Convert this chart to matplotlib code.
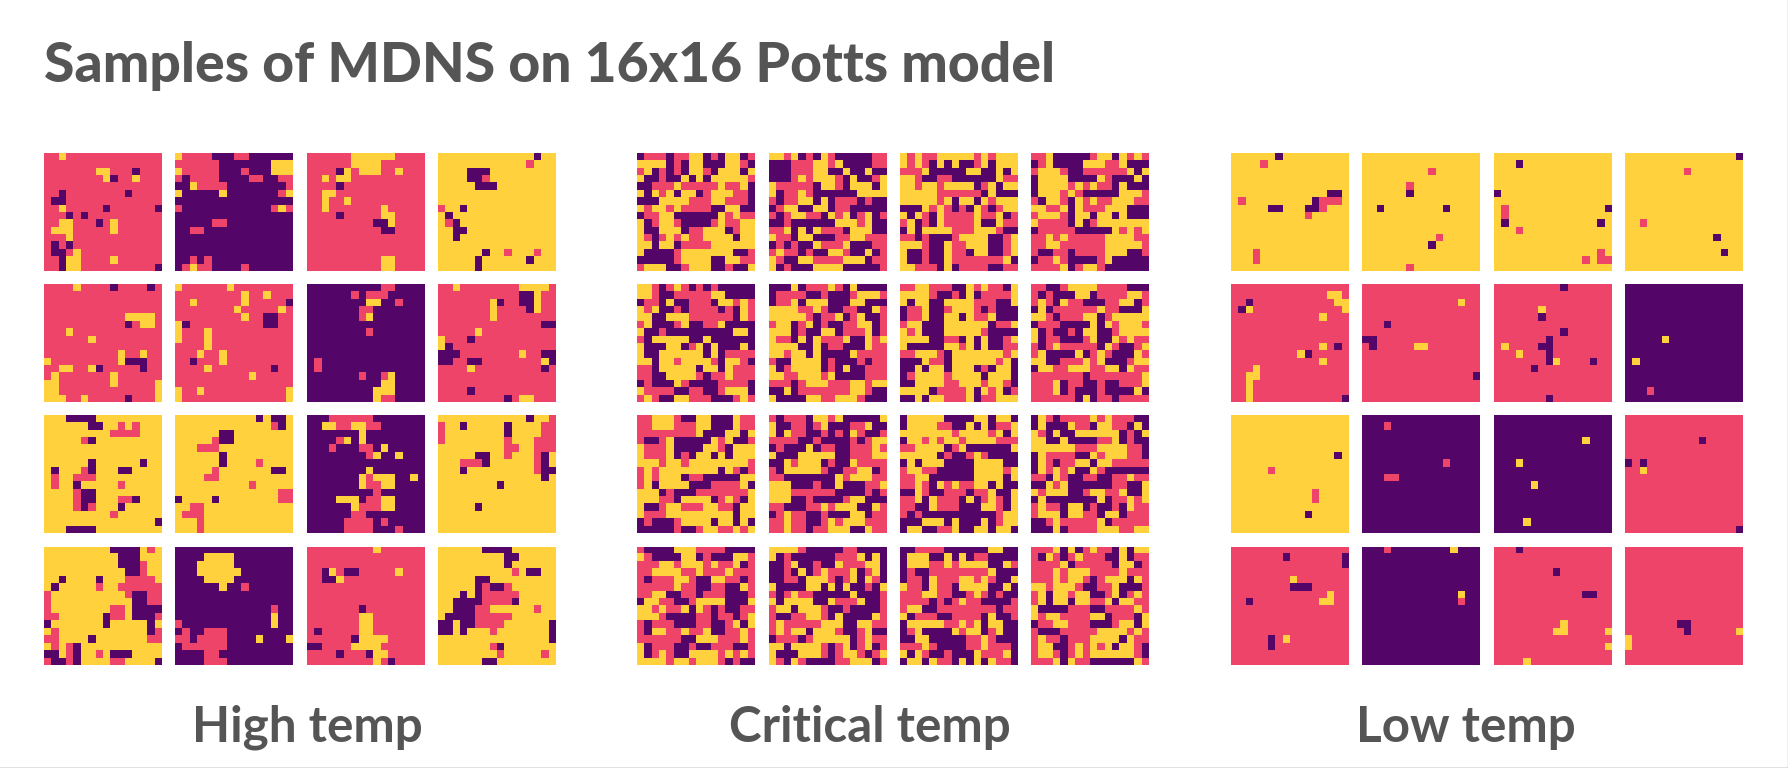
import numpy as np
import matplotlib
matplotlib.use("Agg")
import matplotlib.pyplot as plt
from matplotlib.colors import ListedColormap
from matplotlib.lines import Line2D

# spin states: p purple, r pink, y yellow. rows split by /
high_temp = [
    "rryr rrrr rrrr rrrr/rrrr rrrr rrrr rrrr/rrrr rrry yrrr prrr/rrrr rrrr yprr yrrr/rrrr rrrr rrrr rrrr/rrpr rrrr rrrp rrrr/rppr rrrr rrrr rrrr/rryr rrrr prrr rrrp/rrrp rprr rrrr rrrr/rryy rrrp ryrr rrrr/ryyy rrrr ryrr rrrr/rrry rrrr rrrr rrrr/rprp rrrr rrrr rrrr/rppr yrrr rrrr rrrr/rrpy yrrr ryrr rrrr/rrpy yrrr rrrr rrrp",
    "yrrr rppp rrpp pppp/rrrr rrpp pppp pyyy/yrrr rrpp prpp pyyy/rprr rrpp pprr pprr/ppyr rrrp pppp pppr/yppp ppyp pppp ppry/pppp pppp pppp pppp/rppp pppp pppp pryr/pppp pppp pppp pppp/pppp prrp pppp pppp/pprr pppp pppp pppp/pppp pppp pppp pppp/pppp pppp pppp pppp/pppp pppp pppp pppp/pprp rppp pppp pppp/pryr rppp prpp pppp",
    "rrrr rryy yyyy rrrr/rrrr rryy yyrr rrrr/rrrr pyry yyrr yrrr/rryr yyrr rrrr rrrr/rrrr prrr rrrr rrrr/rryy rrrr rrrr rrrr/rryr ryrr rrrr rrrr/rryr rrrr rryr rrrr/rrrr prrr rryy rrrr/rrrr rrrr rppy rrrr/rrrr rrrr rrpp rrrr/rrrr rrrr rrrr rrrr/rrrr rrrr rrrr rrrr/rrrr rrrr rrrr rrrr/rrrr rrrr rryy rrrr/rrrr rrrr rryy rrrr",
    "yyyy yyyy yyyy ypyy/yyyy yyyy yyyy ryyy/yyyy pppy yyyy yyyy/yyyy ppry yyyy yyyy/yyyy yppp yyyy yyyy/yyyy yyyy yyyy yyyy/yyyy yyyy yyyy yyyy/ryyp yyyy yyyy yyyy/ypyy yyyy yyyy yyyy/yrpy yyyy yyyy yyyy/yypp yyyy yyyy yyyy/yypy yyyy yyyy yyyy/yyyy yyyy yyyy yyyy/yyyy yypy yryy yryy/yyyy ypyy yyyy pyyy/yyyy ypyy yyyy yyyy",
    "rrrr yrrr rprr rrpr/rrrr rrrr rrrr rrrr/rrrr rrrr rrrr rrrr/rrrr rrrr rrrr rrrr/rrrr rrrr rrry yyyr/rrrr rrrr rrrp ryyr/rrry rrrr rrrr rrrr/rrrr rryr rrrr rrrr/rrrr rrrr rrrr rrrr/rrrr rrrr rryr ryrr/yrrr rrrr rryp pprr/rryy rryp rrrr rprr/ryrr rrrr ryrr rrrr/yyrr rrrr ryrr rrry/yyrr rrrr rrrr rrry/yyyr ryrr rrrp rrry",
    "yrrr rrry rrrr rrrr/rrrr rrrr ryrr yrrr/rryr rrrr ryrr rrrp/rrrr rrrr yrrr rryr/rrrr rrrr ryrr pprr/yprr rrrr rrrr pprr/yrrr yrrr rrrr rrrr/yrrr yrrr rrrr rrrr/rrrr yrrr rrrr rrrr/rrry rryr rrrr rrrr/rrpr rryr rrrr rrrr/rrrr yrrr rrrr rprr/rrrr rrrr rryr rrrr/rrrr rrrr rrrr rrrr/yrry rrrr rrrr rrry/yrrr rrrr rrrr rrry",
    "pppp pppp pprr pppp/pppp pprp rrrp pppp/pppp pppp yypp rppp/pppp pppr rppp pppp/pppp pppr yppp pppp/pppp pppp pppp pppp/pppp pppp rppp pppp/pppp pppp pppp pppp/pppp pppp pppp pppp/pppp pppp pppp pppp/prpp pppp pppp pppp/prpp pppp pppp pppp/pppp pppr ppry pppp/pppp pppp ppyy pppp/pppp pppp pyyy pppp/pppp pppp pyrr pppp",
    "rryr rrrr rrry yyyr/rrrr rrrr rrrp pyrr/rrrr rrry prrp pyrr/rrrr rrry rrrr pyrr/rrrr rrry rrrr rrrr/rrrr rrrr rrrr rrpp/rrrr ryrr rrrr rrrr/yrrr prrr rrrr rrrr/yprr rrrr rrrr rrrr/pppr rrrr rrry rrpp/pprr pprr rrrr rryp/rrrr yrrr rrrr rrpr/rrrr rrrr rrrr rrrr/rrrr rrrr rrrr rrrr/rrrr prrr rrrr rrrr/rrrr rrrr rpry yrrr",
    "yyyp pppy yyyy yyyy/yyyy yypp yyry ryyy/yyyy yyyy yrrr ryyy/yyyy yrpy yyyy yyyy/yyyy yyyy yyyy yyyy/yyyy yyyy yyyy yyyy/yyyy yypy yyyy ypyy/ypyy yrpy yypp yyyy/yryy rrry yyyy yyyy/yryy pyyy yyry yyyy/yyyy rppy yyyy yyyy/yyyy rppy yyrr pyyy/yyyy rpry yypy yyyy/yyyy yyyy yryy yyyy/yyyy yyyy yyyy yyyp/yyyp pppy yyyy yyyy",
    "yyyy yyyy yyyp yppy/yyyy yyyy yyyy yrpy/yyyy yypp yyyy yyyy/yyyy yrpp yyyy yyyy/yyyr rryy yyyy yyyy/yyyy yypy yyyy yyyy/yyyy yypy yyyr yyyy/yyyy yryy yyyy yppy/yyyy rryy yyyy yyyy/yyyy yyyy yyry yyyy/yyyy yyyy yyyy yyrr/pyyy ypyy yyyy yyrr/yyrr yyyy yyyy yyyy/yrrr yyyy yyyy yyyy/yyyr yyyy yyyy yyyy/yyyr yyyy yyyy yyyy",
    "pppr rrrr rppp pppp/ppyy rryy rrpp pppp/pppp pppy pppp pppp/pppp rypy pppp pppp/pppr pppr rpyp pppp/pppp pppp rypp yppp/pppp pppp pppp pppp/pppp pppp yppp pppp/pppp pppy ryyy ppyp/pppp pppy rryy pppp/pppp pppp prpp pppp/pppp yyyp rryy pppp/pppp ppyr rryy pppp/pppp pprr pppp pppp/pppp prrr rprp pppp/pppp prrr rppp rppp",
    "yyyy yyyy yyyy pyyr/ryyp yyyy ypyy yyrr/ryyy yyyy ypyy yyrr/ryyy yyyy yryy yrrr/yyyy yyyy yrry yrrr/yyyy yppy yryy yrpy/yyyr rrpy yyyy yrpy/yyyp yyyy yyyy yrpp/yyyy yyyy yyyy yypy/yyyy yyyy pyyy yyyy/yyyy yyyy yyyy yyyy/yyyy yyyy yyyy yyyy/yyyy ypyy yyyy yyyy/yyyy yyyy yyyy yyyy/yyyy yyyy yyyy yyyy/yyyy yyyy yyyy yyyy",
    "yyyy yyyy yppp pyry/yyyy yyyy yypp pyyy/yyyy yyyy yypp pryy/yyyy yyyy yyyp pryy/yypy yyyp yyyr rrry/ypyy yyyr yyrr rrrr/ryyy yyyy yyyr pprr/ryyy yyyy yyyy pprr/ryyy yyyy yrry pppp/rryy yyyy prry pppr/pyyy yyyy pyyy yypy/yryy yyyy yyyy yypr/rryy yypy yyyy yyrr/yryr pyyy yyyy yyyy/ppyr pyyr yppp yyyy/rppr pyyy yrry yyyp",
    "pppp pppp pppp pppp/pppp yyyy pppp pppp/pppy yyyy pppp pppp/pppy yyyy yppp pppp/pppp yyyy pppp pppp/pppp ppyp prpp pppp/pppp pppp pppp pppp/pppp pppp pppp pppp/pppp pppp pppp prpp/pppp pppp pppp pypp/rppp pppp pppp pypp/prpp rrrp pppp pppp/rrpr rrrp pppy pppy/prrr rrrp pppp pppp/pppp rrpp pppp pppp/pppp rrrp pppp pppp",
    "rrrr rrrr ryrr rrrr/rrrr rrrr rrrr rrrr/rrrr rrrr rrrr rrrr/rrpy rppr rrrr yrrr/rrpp yrrr rrrr rrrr/rrrr rrrr rrrr rrrr/rrrr rrrr rrrr rrrr/rrrr rrrr rrrr rrrr/rrrr rrrp rrrr rrrr/rrrr rrry yrrr rrrr/rrrr rrry yrrr rrrr/rprr rrry yrrr rrrr/rrrr rrpy yyyr rrrr/pprr rryy yyrr rrrr/rrrr prrr pyyr rrrr/rrrr rrrr ryrp rrrr",
    "yyyy yypp ppyy yyyy/yyyy yyyy yppy yyyy/yyyy yyyy ypyy yyyy/yyyy yyyy yyry ppyy/yyyy yppy yyyy yyyy/yyyy yprp pryy yyyy/yyyp yprr rrry yyyy/yypp pprr rrpy yyyy/yypp prry yyyy yryy/yppp prrr rryy yyyy/ppyp prrr ryyy yyyp/ppyp yyyr yyyy yyyp/yyyy yyyy yyyy yyyp/yyyy yyyr pyyy yyyy/yyyy yyyy ryyy yyry/yyyy yypp yyyy yyyy",
]

critical_temp = [
    "prrr prry yprp yypr/yyyy prpy yppp yyrp/rypr prpy yrpy yypy/yppr ppyp ypyy yyyr/pprr ryrr rrry rryp/ypyr ypyy pryy yrrp/pppy yyyr rryy rrrp/yryy ryrr rrpp yypp/prry yppp pppy ryrr/ypry yrpp ppry rryy/yppy yypr ryyy pryy/yrpr yryr ryyy ypyy/yypy yprr rryy yyyy/yppp pryy yyyy yppr/pppp pryy yypp yyrr/ryyy ppry yypp rppy",
    "yyry prpy rppp pprr/pppr rryy rypp pprr/pppr rryy ppyp pypp/pppr yryy yrpy ppry/yrrr rrpy yrpy yypy/yprr yrpp pppp yyyy/rprr yypy prrr prpp/pryy ppyy prrp pppp/rpry yrrp yryp rypr/pprp pppp pyyy rypp/rryp ypyr rrpy yypp/yrrp yypp prry yrrr/prpr ppyr rryp pprr/ryrr prpp yyrp pypr/yrpp yyrr rryy yprr/yprp ppyy yypp pppr",
    "yryr ryyy yyry ryyy/yryr pypy ppry pyyy/rrry pppp pyyp pypy/yyrp prrp pppp pyrr/yyry yryy yypr ypyy/yyyy yrrr rrrp yppp/yyyy yryp yypy ryyy/pppy ryrp rpyr pryy/ypyr pyrr rryr rypr/rypr pyrr rryp pyrr/pypy yyyr rryy yrpp/rrpr pppr yyyy ppry/yyyr ppyr ryyy ppry/yppr ppyr rpyy ppry/yppr ppyr rrrr rryp/yyrr rpyp rrrr pprr",
    "rryp pppp ryyp yryr/pryp pppy yyrr yppp/ryyy rppr rrrr rypy/pyyy yppp pyrp ppyp/pyyy yryr yrrp yppp/pyyy ryrp pppp yyyr/rpyy rpyr yrry yyrr/yyrr ypyr rryy yppp/ryyy rpyy pyyp yppp/yrrr rpyp ryyy yyyy/prrr rrpp pppy ryry/rryr yrrr rryy yyrr/rryy rrrr rryy yyyr/rppr rprr rryy yppr/prry rppp pryp pppp/rrrr ypry yrpp pppp",
    "yyrp ryrp rprp pppp/yyrp prrr rryy pppp/prrp yppr rrpy yryr/yryp prpr rrrp rpyr/yypp yyyr rrrr rpyr/rypp pryp prry pppp/yppr pppp pppp pyyp/rpyy yyyp pypp pppp/yppp yypr ypyp ppyp/yppy yyyy ypyp rrrr/yypy yryy yyrp yyrp/rrpy yyyy pyyp yrrr/rrpp yyyy rprr yrrr/prpp pyrp pppr rrrp/yrrr rppr rppr yyyp/ryrp pyyr rrpp pryr",
    "pppy prrr yrpy pppp/prrr rppr pppr yyyr/prry pyyy pppy yppp/yyyy rryr pprr ppyr/yyyy yrpr rypr yppr/ryyp rypr pprr yypr/yyyp rppy yprr rypr/yrrp ypyr rryp pyry/yyyy ppyp rrpp pyrr/yyry ypyp pppy rrrr/rppy yyyp rppp rprr/ypry yyyp rpyp prrr/yyrr yyyr yppp prrr/rrrp ryyy rrry yryy/ppyp rrrr rrry yrpp/yppp pyyr ryyy rppp",
    "rryy rrrp pyry rrpy/yyyy rppr pypr rrry/ypyy ppyy yyrr rppy/prry ppry yyrp rppp/prry ppyy pyrr yppp/ryyp ppyy yyyy prry/yryp ppyy yyyr pppp/yyyy pprr pypy ppry/yppp ppyy rypy pprr/rryy yrpy yyyy yyry/pppy rrpy yyyy yryp/ppyp yypy yypr pyyp/pryy yyry yyyp yyyp/ppyy yyrr yyyr yyrp/yyyy prrr rypy rypr/ppyp yyrr rypr ryyy",
    "rrpp ryyy yrrr rppp/rprp ppyy prrr ryyr/ryrp yrrp pprr yypr/pypr rrrr ryrr pppy/yyrp rrry ypry yyyy/prrr pppp ypyr yyyr/yprp prpy yppr yyyy/yprr pppr yppy ryrr/rpry rrrr rpyr ppry/rypp ppyp ryrp ppyr/yypp rrry rypp pryy/pyyr ryyy rryy pyrr/rrrr rrrp rrrr rrry/rrry prrp prpp rrry/rrry prpp prpp ppyp/rrrr rrpy prrp rrrr",
    "rryy yrpp yypp pyrr/rryy yrrr yypp pyrr/rrrr rrrr yppp yypy/rppr yppp ppyr yppr/yrrr yppp pyyr pyyy/yrrr yprp yypy pyyy/yyyr yyry yyyy yyyr/ryry yyyy yyyp yrpr/ryry yypr rppp ppyy/rypy yyyp pprr rryp/yyyp rppp rrrr rrry/yyyr rpyy yypr yrpy/yppr yyrr ryyr rpyy/yrrr yyyy yyyy ypyy/prpp pryy yypy ypyp/pppp prpp ryyr ryry",
    "rprr rpyy rypp pppy/yppr rpry pppr rypp/ypyr rppr prpy rppr/rrrr pprp pppr pryy/prpp pypr rppr rryr/yppp yyyy yppr rryy/ppyr yyyp rppy rrrr/rpyy yyyr pprr yypr/rrpp pppp pyry yyrr/yyyp pprp pypp prry/yyyr rrrr rppp prpr/yyyp prpp ppry yppp/rrpp prry ryyy ppyr/pryr rppr pppy yprr/rryr rppr yryy yrrr/rryr rprr yyyp pyrr",
    "pyyy yypp ppyy pyyp/pyyy yrrp pypy prry/yyyy yyyr yyyy rypy/pyyr yryy ryyy yrrr/rryy yypr yppp pppy/yyyy yprp pryr pppp/pypy yypp ppyy yypp/ryyr rppp ppyy yyry/rryy pppp ppyy yypy/rryr pyry rryy pypp/ppyr pprr rprr yppy/rryp yrrr pypr yrpy/rrpp yrrr pppy yrpy/rprp pppp pppp pryy/pppy yypy pppy pryy/pyyp prry ppyy pyyp",
    "pyrp rrrr yryr rrpp/pypp pyrr pyyr rpyp/yrpy ppyy yyyy prpy/yypp yppp prry prpp/yyyy yyrr ryyy yrrp/pyrr rrpp yryy yrrp/pyrp rryy pyyr rrrr/pyry rypp yrpp pppp/rrpy rppr rppr ryrr/ppyr yppp pppr rppy/yryy yppr yyrr yppy/pypp pppp pypr ryry/ryrr pyyp rppr pyrr/ryyy pyyr rpyy prrr/ppry rrrr rypr rrrr/pppy prrr ryyy rryy",
    "rppp pyyy rrrr pppp/yrpp ppyy prpp pyyr/rrry yryy yryr rypr/rryy yyrr yrrr yrrr/rprr ryyr ppyy rrpr/rrrr ryrr pprr ppyr/rryy pprr prrr pppr/pyyr rppr yyyy pppy/yyry rryp yrpr pprr/yyyr pppp rrpr rpry/rprr rppp rrpp rypy/rpyy rryr rypp rryr/rrrr rrpp yyyr rryr/yprr rppr pprr rppr/ypry rppy yyyr yryr/yyyy ryyr yyyr prpp",
    "yyyy rppp pprr pppp/yprp pppp prrr ypyp/ppry pprp pyrr ryyp/pprp ypry rrry pryp/pprr pyyy rpry pyrp/yppp pyyp ypyp prpy/rpry rrpp pppy pppr/ypyy yypp yrrr yppr/ryyp yyyr pprp pppr/rppr ryyr pypp ppyr/ryrr rrry yypp yyrr/ryry ypyy yrpp rypp/prrr pryy yyyp ryrr/yypy yyyr pryp rypr/yppp yyyr pryy rpry/yrpy rppp prry yypr",
    "pprr rrpp pppp yypp/pyyy ppyp yprr pppp/pyyy rryr yyyy ppyr/prpp rrrr rrrr yppp/prrp yrrr yyry rppy/yrrp yrrp yyyy ppyp/rrry yrrp pryr prpp/rrrr prpr yrrp pppr/ryyp prrr rrrr rprr/yprr rppr rrrp yppr/pyyy yyrr yryp yypp/pryp pppy ryyp rypp/ppyy pppp prry rppp/rrry rppp prry rrrp/ypyr pprp ppyr rryp/pyyp yrrp ypyp yrrp",
    "rrry pypr yrrp ypyy/rpyr pryr rrpp yprr/rrrr yprr rrrp yypr/rrry ryyy rrrr yrrr/rrry ryyr pryy ypyr/yyry yyrp prry pppr/rypy yryy ppry pryr/rypy ypyy rryp yyrr/yppp prrr pprr rryr/yryy rrrr yypr rrpy/prry yrrr pppr yypy/rppp rrrr ryyy yryr/ryrr prrr yyyy pyrr/ryyp pryr yryp yyrp/ryyr pryr yyyy yyrp/rrry pyrr pppp ppyr",
]

low_temp = [
    "yyyy yypy yyyy yyyy/yyyy ryyy yyyy yyyy/yyyy yyyy yyyy yyyy/yyyy yyyy yyyy yyyy/yyyy yyyy yyyy yyyy/yyyy yyyy yyyy yppy/yryy yyyy yyyp rrry/yyyy yppy yypp ryyy/yyyy yyyy yyry yyyy/yyyy yyyy yyyy yyyy/yyyy yyyy yyyy yyyy/yyyy yyyy yyyy yyyy/yyyy yyyy yyyy yyyy/yyyr yyyy yyyy yyyy/yyyr yyyy yyyy yyyy/yyyy yyyy yyyy yyyy",
    "yyyy yyyy yyyy yyyy/yyyy yyyy yyyy yyyy/yyyy yyyy yryy yyyy/yyyy yyyy yyyy yyyy/yyyy yyry yyyy yyyy/yyyy yypy yyyy yyyy/yyyy yyyy yyyy yyyy/yypy yyyy yyyp yyyy/yyyy yyyy yyyy yyyy/yyyy yyyy yyyy yyyy/yyyy yyyy yyyy yyyy/yyyy yyyy yyry yyyy/yyyy yyyy ypyy yyyy/yyyy yyyy yyyy yyyy/yyyy yyyy yyyy yyyy/yyyy yyry yyyy yyyy",
    "yyyy yyyy yyyy yyyy/yyyp yyyy yyyy yyyy/yyyy yyyy yyyy yyyy/yyyy yyyy yyyy yyyy/yyyy yyyy yyyy yyyy/pyyy yyyy yyyy yyyy/yyyy yyyy yyyy yyyy/yryy yyyy yyyy yyyp/yryy yyyy yyyy yyyy/ypyy yyyy yyyy yypy/yyyr yyyy yyyy yyyy/yyyy yyyy yyyy yyyy/yyyy yyyy yyyy yyyy/yyyy yyyy yyyy yyry/yyyy yyyy yyyy ryrr/yyyy yyyy yyyy yyyy",
    "yyyy yyyy yyyy yyyp/yyyy yyyy yyyy yyyy/yyyy yyyy ryyy yyyy/yyyy yyyy yyyy yyyy/yyyy yyyy yyyy yyyy/yyyy yyyy yyyy yyyy/yyyy yyyy yyyy yyyy/yyyy yyyy yyyy yyyy/yyyy yyyy yyyy yyyy/yyry yyyy yyyy yyyy/yyyy yyyy yyyy yyyy/yyyy yyyy yyyy pyyy/yyyy yyyy yyyy yyyy/yyyy yyyy yyyy ypyy/yyyy yyyy yyyy yyyy/yyyy yyyy yyyy yyyy",
    "rrrr rrrr rrrr rrrr/rrrr rrrr rrrr ryyr/rrpr rrrr rrrr rryy/rpyr rrrr rrrr rrry/rrrr rrrr rrrr yrrr/rrrr rrrr rrrr rrrr/rrrr rrrr rrrr rrrr/rrrr rrrr rrrr rrrr/rrrr rrrr rrrr yrpr/rrrr rrrr rypr rrrr/rrrr rrrr rrrr yrrr/rrry rrrr rrrr rrrr/rryy rrrr rrrr rrrr/rryr rrrr rrrr rrrr/rryr rrrr rrrr rrrr/rryr rrrr rrrr rrrp",
    "rrrr rrrr rrrr rrrr/rrrr rrrr rrrr rrrr/rrrr rrrr rrrr ryrr/rrrr rrrr rrrr rrrr/rrrr rrrr rrrr rrrr/rrrp rrrr rrrr rrrr/rrrr rrrr rrrr rrrr/pprr rrrr rrrr rrrr/rprr rrry yrrr rrrr/rrrr rrrr rrrr rrrr/rrrr rrrr rrrr rrrr/rrrr rrrr rrrr rrrr/rrrr rrrr rrrr rrrp/rrrr rrrr rrrr rrrr/rrrr rrrr rrrr rrrr/rrrr rrrr rrrr rrrr",
    "rrrr rrrr rprr rrrr/rrrr rrrr rrrr rrrr/rrrr rrrr rrrr rrrr/rrrr rryr rrrr rrrr/rrrr rrpr rrrr rrrr/rrrr rrrr rrrr rrrr/rrrr rrrr rprr rrrr/rrrr rrrp rrrr rrrr/ryrr rrpp rrrr rrrr/rrry rrrp rrrr rrrr/rrrr rrrp yrrr rprr/rrrr rprr rrrr rrrr/rrrr rrrr rrrr rrrr/rrrr rrrr rrrr rrrr/rrrr rrrr rrrr rrrr/rrrr rrrp rrrr rrrr",
    "pppp pppp pppp pppp/pppp pppp pppp pppp/pppp pppp pppp pppp/pppp pppp pppp pppp/pppp pppp pppp pppp/pppp pppp pppp pppp/pppp pppp pppp pppp/pppp pypp pppp pppp/pppp pppp pppp pppp/pppp pppp pppp pppp/pypp pppp pppp pppp/pppp pppp pppp pppp/pppp pppp pppp pppp/pppp pppp pppp pppp/pppr pppp pppp pppp/pppp pppp pppp pppp",
    "yyyy yyyy yyyy yyyy/yyyy yyyy yyyy yyyy/yyyy yyyy yyyy yyyy/yyyy yyyy yyyy yyyy/yyyy yyyy yyyy yyyy/yyyy yyyy yyyy yypy/yyyy yyyy yyyy yyyy/yyyy yryy yyyy yyyy/yyyy yyyy yyyy yyyy/yyyy yyyy yyyy yyyy/yyyy yyyy yyyr yyyy/yyyy yyyy yyyr yyyy/yyyy yyyy yyyy yyyy/yyyy yyyy yypy yyyy/yyyy yyyy yyyy yyyy/yyyy yyyy yyyy yyyy",
    "pppp pppp pppp pppp/pppr pppp pppp pppp/pppp pppp pppp pppp/pppp pppp pppp pppp/pppp pppp pppp pppp/pppp pppp pppp pppp/pppp pppp pppr pppp/pppp pppp pppp pppp/pppr rppp pppp pppp/pppp pppp pppp pppp/pppp pppp pppp pppp/pppp pppp pppp pppp/pppp pppp pppp pppp/pppp pppp pppp pppp/pppp pppp pppp pppp/pppp pppp pppp pppp",
    "pppp pppp pppp pppp/pppp pppp pppp pppp/pppp pppp pppp pppp/pppp pppp pppp yppp/pppp pppp pppp pppp/pppp pppp pppp pppp/pppy pppp pppp pppp/pppp pppp pppp pppp/pppp pppp pppp pppp/pppp pypp pppp pppp/pppp pppp pppp pppp/pppp pppp pppp pppp/pppp pppp pppp pppp/pppp pppp pppp pppp/pppp yppp pppp pppp/pppp pppp pppp pppp",
    "rrrr rrrr rrrr rrrr/rrrr rrrr rrrr rrrr/rrrr rrrr rrrr rrrr/rrrr rrrr rrpr rrrr/rrrr rrrr rrrr rrrr/rrrr rrrr rrrr rrrr/prpr rrrr rrrr rrrr/rryr rrrr rrrr rrrr/rrrr rrrr rrrr rrrr/rrrr rrrr rrrr rrrr/rrrr rrrr rrrr rrrr/rrrr rrrr rrrr rrrr/rrrr rrrr rrrr rrrr/rrrr rrrr rrrr rrrr/rrrr rrrr rrrr rrrr/rrrr rrrr rrrr rrrp",
    "rrrr rrrr rrrr rrrr/rrrr rrrp rrrr rrrp/rrrr rrrr rrrr rrrp/rrrr rrrr rrrr rrrr/rrrr rrrr yrrr rrrr/rrrr rrrr pppr rrrr/rrrr rrrr rrrr ryrr/rrpr rrrr rrrr yyrr/rrrr rrrr rrrr rrrr/rrrr rrrr rrrr rrrr/rrrr rrrr rrrr rrrr/rrrr rrrr rrrr rrrr/rrrr rpry rrrr rrrr/rrrr rprr rrrr rrrr/rrrr rrrr rrrr rrrr/rrrr rrrr rrrr rrrr",
    "pppr pppp pppp yppp/pppp pppp pppp pppp/pppp pppp pppp pppp/pppp pppp pppp pppp/pppp pppp pppp pppp/pppp pppp pppp pppp/pppp pppp pppp pypp/pppp pppp pppp prpp/pppp pppp pppp pppp/pppp pppp pppp pppp/pppp pppp pppp pppp/pppp pppp pppp pppp/pppp pppp pppp pppp/pppp pppp pppp pppp/pppp pppp pppp pppp/pppp pppp pppp pppp",
    "rrrp rrrr rrrr rrrr/rrrr rrrr rrrr rrrr/rrrr rrrr rrrr rrrr/rrrr rrrr prrr rrrr/rrrr rrrr rrrr rrrr/rrrr rrrr rrrr rrrr/rrrr rrrr rrrr pprr/rrrr rrrr rrrr rrrr/rrrr rrrr rrrr rrrr/rrrr rrrr rrrr rrrr/rrrr rrrr ryrr rrrr/rrrr rrrr yyrr rrry/rrrr rrrr rrrr rrrr/rrrr rrrr rrrr rrry/rrrr rrrr rrrr rrrr/rrrr yrrr rrrr rrrr",
    "rrrr rrrr rrrr rrrr/rrrr rrrr rrrr rrrr/rrrr rrrr rrrr rrrr/rrrr rrrr rrrr rrrr/rrrr rrrr rrrr rrrr/rrrr rrrr rrrr rrrr/rrrr rrrr rrrr rrrr/rrrr rrrr rrrr rrrr/rrrr rrrr rrrr rrrr/rrrr rrrr rrrr rrrr/rrrr rrrp prrr rrrr/rrrr rrrr prrr rrry/yrrr rrrr rrrr rrrr/yrrr rrrr rrrr rrrr/rrrr rrrr rrrr rrrr/rrrr rrrr rrrr rrrr",
]

group_labels = ["High temp", "Critical temp", "Low temp"]
title = "Samples of MDNS on 16x16 Potts model"

W, H = 1788, 768
PANEL = 118
GROUP_X = [44, 637.3, 1231]
STEP_X = 131.3
ROW_Y = [152.7, 284, 415.3, 546.7]
LABEL_X = [307, 870, 1466]
GREY = "#555555"

codes = {"p": 0, "r": 1, "y": 2}
cmap = ListedColormap(["#530667", "#EE4469", "#FED13D"])


def parse_panel(text):
    return np.array([[codes[c] for c in row.replace(" ", "")] for row in text.split("/")])


fig = plt.figure(figsize=(W / 100, H / 100), dpi=100, facecolor="white")

for gx, group in zip(GROUP_X, [high_temp, critical_temp, low_temp]):
    for n, panel in enumerate(group):
        row, col = divmod(n, 4)
        left = gx + col * STEP_X
        top = ROW_Y[row]
        ax = fig.add_axes([left / W, 1 - (top + PANEL) / H, PANEL / W, PANEL / H])
        ax.imshow(parse_panel(panel), cmap=cmap, vmin=0, vmax=2, interpolation="nearest", aspect="auto")
        ax.axis("off")

fig.text(44 / W, 1 - 66 / H, title, fontsize=39.8, fontweight=900, family="Lato",
         color=GREY, ha="left", va="center")
for x, label in zip(LABEL_X, group_labels):
    fig.text(x / W, 1 - 727 / H, label, fontsize=35.6, fontweight="bold", family="Lato",
             color=GREY, ha="center", va="center")

# thin screenshot edge at the bottom and right
fig.add_artist(Line2D([0, 1], [0.5 / H, 0.5 / H], color="#666666", lw=1))
fig.add_artist(Line2D([1 - 0.5 / W, 1 - 0.5 / W], [0, 1], color="#bbbbbb", lw=1))

fig.savefig("out.png", dpi=100, facecolor="white")
